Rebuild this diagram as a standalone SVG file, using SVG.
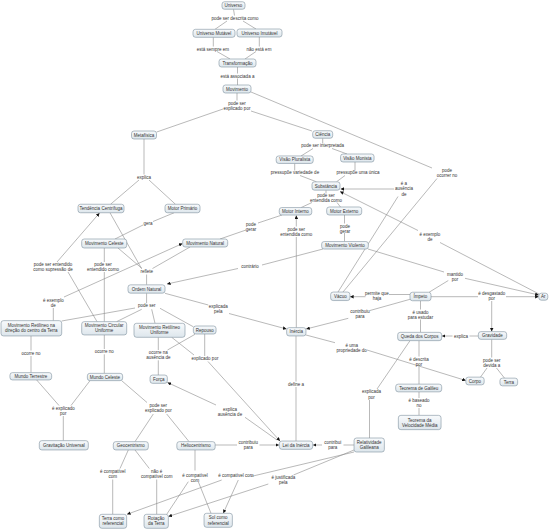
<svg xmlns="http://www.w3.org/2000/svg" width="550" height="530" viewBox="0 0 550 530">
<style>
.n rect{fill:url(#g);stroke:#7d909e;stroke-width:0.6}
text{font-family:"Liberation Sans",Arial,sans-serif;font-size:4.5px;fill:#333;text-anchor:middle}
.c path{fill:none;stroke:#8a8a8a;stroke-width:0.6}
.c path.a{marker-end:url(#ar)}
</style>
<defs>
<linearGradient id="g" x1="0" y1="0" x2="0" y2="1"><stop offset="0" stop-color="#f8fafc"/><stop offset="1" stop-color="#dde6ec"/></linearGradient>
<marker id="ar" viewBox="0 0 6 6" refX="6" refY="3" markerWidth="3.6" markerHeight="3.6" orient="auto" markerUnits="userSpaceOnUse"><path d="M0,0 L6,3 L0,6 z" fill="#111"/></marker>
</defs>
<rect width="550" height="530" fill="#fff"/>
<g class="c" id="connectors">
<path d="M233.5,9.3 L234.5,15.5"/>
<path d="M227,21 L215,29.3"/>
<path d="M243,21 L256,29"/>
<path d="M213.3,37.3 L213.3,46.5"/>
<path d="M217,51.5 L230,59"/>
<path d="M259.3,37 L259.3,46.5"/>
<path d="M256,51.5 L245,59"/>
<path d="M237.5,67 L237.5,73.5"/>
<path d="M237.5,78.5 L237.5,85"/>
<path d="M237,93 L237,100.5"/>
<path d="M223,109 L156.7,132"/>
<path d="M251,111 L312,131"/>
<path d="M251,92 L432,168"/>
<path d="M437,178.5 L343,292"/>
<path d="M144,139 L144,174.5"/>
<path d="M139,180 L110.5,204.3"/>
<path d="M149,180 L175.5,204.3"/>
<path d="M322.7,138.3 L322.7,143.5"/>
<path d="M313,148.5 L301,156"/>
<path d="M332,148.5 L347,154"/>
<path d="M294.7,163.5 L294.7,170.5"/>
<path d="M300,175.5 L316.5,181.8"/>
<path d="M355,162 L355,170.5"/>
<path d="M345,175.5 L336.5,181.8"/>
<path d="M326,190.2 L326,193.5"/>
<path d="M312,202.5 L301,207.6"/>
<path d="M337,202.5 L340.5,207"/>
<path d="M539,294 L440,242.5"/>
<path class="a" d="M418,230.5 L340,191.5"/>
<path d="M338,292 L398,196.5"/>
<path class="a" d="M394,189 L340.5,189"/>
<path d="M174,212.8 L153,221.5"/>
<path d="M143,225 L115,239"/>
<path d="M282,215 L258,223"/>
<path d="M246,230 L220,239"/>
<path d="M344.5,215 L344.5,223.5"/>
<path d="M344.5,233 L344.5,241.5"/>
<path d="M296.3,327.6 L296.3,237"/>
<path class="a" d="M296.3,226.5 L296.3,215.4"/>
<path d="M104.3,248 L104.3,262"/>
<path d="M104.3,272 L104.3,321.6"/>
<path d="M97,321.6 L68,272"/>
<path class="a" d="M57,262 L99.5,213"/>
<path d="M110,212.8 L141.5,268.5"/>
<path d="M118,248 L142,268.5"/>
<path d="M190,247 L152.5,268.5"/>
<path d="M146.6,274.5 L146.6,284.8"/>
<path d="M53.3,308 L53.3,320.6"/>
<path class="a" d="M64,297 L182.5,243.5"/>
<path d="M323,249 L262,265"/>
<path class="a" d="M238,268.5 L167,284"/>
<path d="M146.6,293.2 L146.6,303.2"/>
<path d="M135,308 L61.7,321"/>
<path d="M141.7,309.3 L116.7,321.6"/>
<path d="M151.7,309.3 L155,323.3"/>
<path d="M160,308.3 L193.4,326.8"/>
<path d="M165,293.3 L208.3,305"/>
<path class="a" d="M229,313.5 L286.5,329"/>
<path d="M368,249 L444,272"/>
<path d="M448.3,280.5 L429,292.3"/>
<path class="a" d="M465,278.3 L538.7,295"/>
<path d="M410,294.5 L389,294.5"/>
<path class="a" d="M365.5,296.7 L350,296.7"/>
<path d="M410,299.3 L370,310.5"/>
<path class="a" d="M348.3,318.3 L306.2,329"/>
<path d="M431,296.7 L478,296.7"/>
<path class="a" d="M506,296.7 L538.7,296.7"/>
<path class="a" d="M491.7,301 L491.7,331.5"/>
<path d="M420.5,300.8 L420.5,309.5"/>
<path d="M420.5,319.5 L420.5,332.3"/>
<path d="M478.3,336 L469.5,336"/>
<path class="a" d="M452.5,336 L441.8,336"/>
<path d="M491.7,339.4 L491.7,357.5"/>
<path d="M487,368 L480.5,377.1"/>
<path d="M496.5,368 L504.5,378.1"/>
<path d="M306,335 L335,342.7"/>
<path class="a" d="M367,350 L465.8,380.5"/>
<path d="M419,340.7 L419,356.5"/>
<path d="M419,366.5 L419,384.1"/>
<path d="M419,391.9 L419,398"/>
<path d="M419,408 L419,415.3"/>
<path d="M410,340.7 L377,389"/>
<path d="M369.5,400 L369.5,438"/>
<path d="M31,336 L31,350.5"/>
<path d="M31,356 L31,372.6"/>
<path d="M104.3,335 L104.3,349"/>
<path d="M104.3,354.3 L104.3,373.3"/>
<path d="M158.3,337.3 L158.3,350"/>
<path d="M158.3,360.3 L158.3,375"/>
<path d="M195,334.3 L167.5,350"/>
<path d="M204.7,334 L204.7,356"/>
<path d="M171.7,337.3 L194,355"/>
<path class="a" d="M208,361.5 L280,441"/>
<path d="M36.7,380 L59,405.5"/>
<path d="M90,380.7 L71,405.5"/>
<path d="M63.3,416 L63.3,440.6"/>
<path d="M121.7,380.7 L147,402.5"/>
<path d="M153.3,414 L135,441.6"/>
<path d="M166.7,414 L189,441.6"/>
<path d="M128.3,450 L120,468.5"/>
<path d="M112.7,479.5 L112.7,514.3"/>
<path d="M135,450 L149.3,468.5"/>
<path d="M156.7,479.5 L156.7,514.3"/>
<path d="M195,450 L195,470.5"/>
<path d="M188.3,481.7 L166.7,514.3"/>
<path d="M198.3,481.7 L211,513.3"/>
<path d="M215,445 L237,445"/>
<path class="a" d="M259.5,445 L279.2,445"/>
<path d="M354,445 L343.5,445"/>
<path class="a" d="M322,445 L312.8,445"/>
<path d="M296,441 L296,387"/>
<path d="M296,381.5 L296,336.1"/>
<path d="M277,440 L245,417.3"/>
<path class="a" d="M216,405 L167.5,382.5"/>
<path d="M354,452 L251,476.5"/>
<path class="a" d="M221.7,480 L127,514.3"/>
<path class="a" d="M238.3,480 L223.3,513.2"/>
<path d="M354,450 L293.5,475"/>
<path class="a" d="M268.3,484 L168.4,516.5"/>
</g>
<g id="links">
<text x="235" y="19.6">pode ser descrita como</text>
<text x="213" y="50.6">está sempre em</text>
<text x="259" y="50.6">não está em</text>
<text x="237.5" y="77.6">está associada a</text>
<text x="237" y="104.6">pode ser<tspan x="237" y="109.6">explicado por</tspan></text>
<text x="447" y="171.6">pode<tspan x="447" y="176.6">ocorrer no</tspan></text>
<text x="322.7" y="147.3">pode ser interpretada</text>
<text x="295" y="174.3">pressupõe variedade de</text>
<text x="358" y="174.3">pressupõe uma única</text>
<text x="144" y="178.6">explica</text>
<text x="404" y="184.9">é a<tspan x="404" y="190.4">ausência</tspan><tspan x="404" y="195.6">de</tspan></text>
<text x="326" y="197.3">pode ser<tspan x="326" y="202.3">entendida como</tspan></text>
<text x="148" y="224.6">gera</text>
<text x="251" y="225.6">pode<tspan x="251" y="230.6">gerar</tspan></text>
<text x="296.3" y="230.9">pode ser<tspan x="296.3" y="235.9">entendida como</tspan></text>
<text x="345" y="227.6">pode<tspan x="345" y="232.6">gerar</tspan></text>
<text x="430" y="235.6">é exemplo<tspan x="430" y="240.6">de</tspan></text>
<text x="53" y="266.3">pode ser entendido<tspan x="53" y="270.9">como supressão de</tspan></text>
<text x="103" y="266.3">pode ser<tspan x="103" y="270.9">entendido como</tspan></text>
<text x="146.7" y="273.3">reflete</text>
<text x="250" y="268.3">contrário</text>
<text x="455" y="275.6">mantido<tspan x="455" y="280.6">por</tspan></text>
<text x="377" y="295.2">permite que<tspan x="377" y="299.9">haja</tspan></text>
<text x="491.7" y="294.9">é desgastado<tspan x="491.7" y="299.9">por</tspan></text>
<text x="53.3" y="302.3">é exemplo<tspan x="53.3" y="307.3">de</tspan></text>
<text x="146.7" y="307.3">pode ser</text>
<text x="218.3" y="308.3">explicada<tspan x="218.3" y="313.3">pela</tspan></text>
<text x="360" y="313.3">contribuiu<tspan x="360" y="318.3">para</tspan></text>
<text x="420.5" y="313.9">é usado<tspan x="420.5" y="318.9">para estudar</tspan></text>
<text x="461" y="337.6">explica</text>
<text x="351.7" y="346.6">é uma<tspan x="351.7" y="351.6">propriedade do</tspan></text>
<text x="31" y="354.9">ocorre no</text>
<text x="104.3" y="353.3">ocorre no</text>
<text x="158.3" y="354.3">ocorre na<tspan x="158.3" y="359.3">ausência de</tspan></text>
<text x="205" y="359.9">explicado por</text>
<text x="419" y="360.6">é descrita<tspan x="419" y="365.6">por</tspan></text>
<text x="491.7" y="361.6">pode ser<tspan x="491.7" y="367.3">devida a</tspan></text>
<text x="296" y="385.6">define a</text>
<text x="371.5" y="393.3">explicada<tspan x="371.5" y="398.9">por</tspan></text>
<text x="419" y="402.3">é baseado<tspan x="419" y="407.3">no</tspan></text>
<text x="63.3" y="409.9">é explicado<tspan x="63.3" y="414.9">por</tspan></text>
<text x="158.3" y="406.6">pode ser<tspan x="158.3" y="412.3">explicado por</tspan></text>
<text x="230" y="410.6">explica<tspan x="230" y="415.6">ausência de</tspan></text>
<text x="248.3" y="444.3">contribuiu<tspan x="248.3" y="449.3">para</tspan></text>
<text x="332.7" y="444.3">contribui<tspan x="332.7" y="449.3">para</tspan></text>
<text x="112.7" y="472.9">é compatível<tspan x="112.7" y="478.3">com</tspan></text>
<text x="156.7" y="472.9">não é<tspan x="156.7" y="478.3">compatível com</tspan></text>
<text x="195" y="476.6">é compatível<tspan x="195" y="481.6">com</tspan></text>
<text x="236" y="476.6">é compatível com</text>
<text x="283.3" y="478.9">é justificada<tspan x="283.3" y="484.3">pela</tspan></text>
</g>
<g class="n" id="n-universo"><rect x="222" y="1.75" width="23" height="7.5" rx="2.5"/><text x="233.5" y="7.1">Universo</text></g>
<g class="n" id="n-mutavel"><rect x="193" y="29.3" width="42" height="8" rx="2.5"/><text x="214" y="34.9">Universo Mutável</text></g>
<g class="n" id="n-imutavel"><rect x="237" y="29" width="45" height="8" rx="2.5"/><text x="259.5" y="34.6">Universo Imutável</text></g>
<g class="n" id="n-transformacao"><rect x="219" y="59" width="37" height="8" rx="2.5"/><text x="237.5" y="64.6">Transformação</text></g>
<g class="n" id="n-movimento"><rect x="223" y="85" width="28" height="8" rx="2.5"/><text x="237" y="90.6">Movimento</text></g>
<g class="n" id="n-metafisica"><rect x="131.5" y="131" width="25" height="8" rx="2.5"/><text x="144" y="136.6">Metafísica</text></g>
<g class="n" id="n-ciencia"><rect x="312.7" y="130.75" width="20" height="7.5" rx="2.5"/><text x="322.7" y="136.1">Ciência</text></g>
<g class="n" id="n-pluralista"><rect x="276.2" y="155.95" width="37" height="7.5" rx="2.5"/><text x="294.7" y="161.3">Visão Pluralista</text></g>
<g class="n" id="n-monista"><rect x="340.55" y="154" width="33.5" height="8" rx="2.5"/><text x="357.3" y="159.6">Visão Monista</text></g>
<g class="n" id="n-substancia"><rect x="312" y="181.85" width="28" height="8.3" rx="2.5"/><text x="326" y="187.6">Substância</text></g>
<g class="n" id="n-tendencia"><rect x="78" y="204.25" width="46" height="8.5" rx="2.5"/><text x="101" y="210.1">Tendência Centrífuga</text></g>
<g class="n" id="n-motorprimario"><rect x="165" y="204.25" width="35" height="8.5" rx="2.5"/><text x="182.5" y="210.1">Motor Primário</text></g>
<g class="n" id="n-motorinterno"><rect x="279.25" y="207.55" width="32.5" height="7.5" rx="2.5"/><text x="295.5" y="212.9">Motor Interno</text></g>
<g class="n" id="n-motorexterno"><rect x="326.7" y="207" width="35" height="8" rx="2.5"/><text x="344.2" y="212.6">Motor Externo</text></g>
<g class="n" id="n-movceleste"><rect x="81.7" y="239" width="45" height="9" rx="2.5"/><text x="104.2" y="245.1">Movimento Celeste</text></g>
<g class="n" id="n-movnatural"><rect x="182.7" y="239" width="45" height="8" rx="2.5"/><text x="205.2" y="244.6">Movimento Natural</text></g>
<g class="n" id="n-movviolento"><rect x="321.65" y="241.55" width="46.7" height="7.5" rx="2.5"/><text x="345" y="246.9">Movimento Violento</text></g>
<g class="n" id="n-ordemnatural"><rect x="128" y="284.85" width="37" height="8.3" rx="2.5"/><text x="146.5" y="290.6">Ordem Natural</text></g>
<g class="n" id="n-vacuo"><rect x="330.65" y="292.05" width="19.3" height="8.5" rx="2.5"/><text x="340.3" y="297.9">Vácuo</text></g>
<g class="n" id="n-impeto"><rect x="410" y="292.25" width="21" height="8.5" rx="2.5"/><text x="420.5" y="298.1">Ímpeto</text></g>
<g class="n" id="n-ar"><rect x="538.8" y="293.2" width="9" height="7" rx="2.5"/><text x="543.3" y="298.3">Ar</text></g>
<g class="n" id="n-mrndct"><rect x="1" y="320.65" width="60.7" height="15.3" rx="2.5"/><text x="31.3" y="327.1">Movimento Retilíneo na<tspan x="31.3" y="332.4">direção do centro da Terra</tspan></text></g>
<g class="n" id="n-mcu"><rect x="81.7" y="321.65" width="45" height="13.3" rx="2.5"/><text x="104.2" y="327.2">Movimento Circular<tspan x="104.2" y="332.3">Uniforme</tspan></text></g>
<g class="n" id="n-mru"><rect x="134" y="323.3" width="51" height="14" rx="2.5"/><text x="159.5" y="328.6">Movimento Retilíneo<tspan x="159.5" y="333.9">Uniforme</tspan></text></g>
<g class="n" id="n-repouso"><rect x="193.35" y="326" width="22.7" height="8" rx="2.5"/><text x="204.7" y="331.6">Repouso</text></g>
<g class="n" id="n-inercia"><rect x="286.65" y="327.65" width="19.3" height="8.3" rx="2.5"/><text x="296.3" y="333.4">Inércia</text></g>
<g class="n" id="n-queda"><rect x="397.7" y="332.35" width="44" height="8.3" rx="2.5"/><text x="419.7" y="338.1">Queda dos Corpos</text></g>
<g class="n" id="n-gravidade"><rect x="478.35" y="331.65" width="28.3" height="7.7" rx="2.5"/><text x="492.5" y="337.1">Gravidade</text></g>
<g class="n" id="n-mundoterrestre"><rect x="9.95" y="372.65" width="41.7" height="7.3" rx="2.5"/><text x="30.8" y="377.9">Mundo Terrestre</text></g>
<g class="n" id="n-mundoceleste"><rect x="87.35" y="373.35" width="35.3" height="7.3" rx="2.5"/><text x="105" y="378.6">Mundo Celeste</text></g>
<g class="n" id="n-forca"><rect x="150.05" y="375.05" width="17.3" height="8.3" rx="2.5"/><text x="158.7" y="380.8">Força</text></g>
<g class="n" id="n-corpo"><rect x="465.85" y="377.15" width="18.3" height="7.7" rx="2.5"/><text x="475" y="382.6">Corpo</text></g>
<g class="n" id="n-terra"><rect x="499.95" y="378.15" width="17.7" height="7.7" rx="2.5"/><text x="508.8" y="383.6">Terra</text></g>
<g class="n" id="n-galileu"><rect x="395.7" y="384.15" width="46" height="7.7" rx="2.5"/><text x="418.7" y="389.6">Teorema de Galileu</text></g>
<g class="n" id="n-tvm"><rect x="398.35" y="415.35" width="42.7" height="14.3" rx="2.5"/><text x="419.7" y="421.6">Teorema da<tspan x="419.7" y="426.7">Velocidade Média</tspan></text></g>
<g class="n" id="n-gravitacao"><rect x="39.3" y="440.65" width="49" height="9.3" rx="2.5"/><text x="63.8" y="446.9">Gravitação Universal</text></g>
<g class="n" id="n-geocentrismo"><rect x="113.3" y="441.65" width="35" height="8.3" rx="2.5"/><text x="130.8" y="447.4">Geocentrismo</text></g>
<g class="n" id="n-heliocentrismo"><rect x="176.85" y="441.65" width="38.3" height="8.3" rx="2.5"/><text x="196" y="447.4">Heliocentrismo</text></g>
<g class="n" id="n-leiinercia"><rect x="279.35" y="441.05" width="33.3" height="8.3" rx="2.5"/><text x="296" y="446.8">Lei da Inércia</text></g>
<g class="n" id="n-relatividade"><rect x="354.05" y="438" width="30.3" height="14" rx="2.5"/><text x="369.2" y="443.9">Relatividade<tspan x="369.2" y="448.9">Galileana</tspan></text></g>
<g class="n" id="n-terraref"><rect x="99.35" y="514.3" width="27.3" height="14" rx="2.5"/><text x="113" y="519.9">Terra como<tspan x="113" y="524.9">referencial</tspan></text></g>
<g class="n" id="n-rotacao"><rect x="144.05" y="514.3" width="24.3" height="14" rx="2.5"/><text x="156.2" y="519.9">Rotação<tspan x="156.2" y="524.9">da Terra</tspan></text></g>
<g class="n" id="n-solref"><rect x="204.05" y="513.3" width="28.3" height="14" rx="2.5"/><text x="218.2" y="519.3">Sol como<tspan x="218.2" y="524.7">referencial</tspan></text></g>
</svg>
